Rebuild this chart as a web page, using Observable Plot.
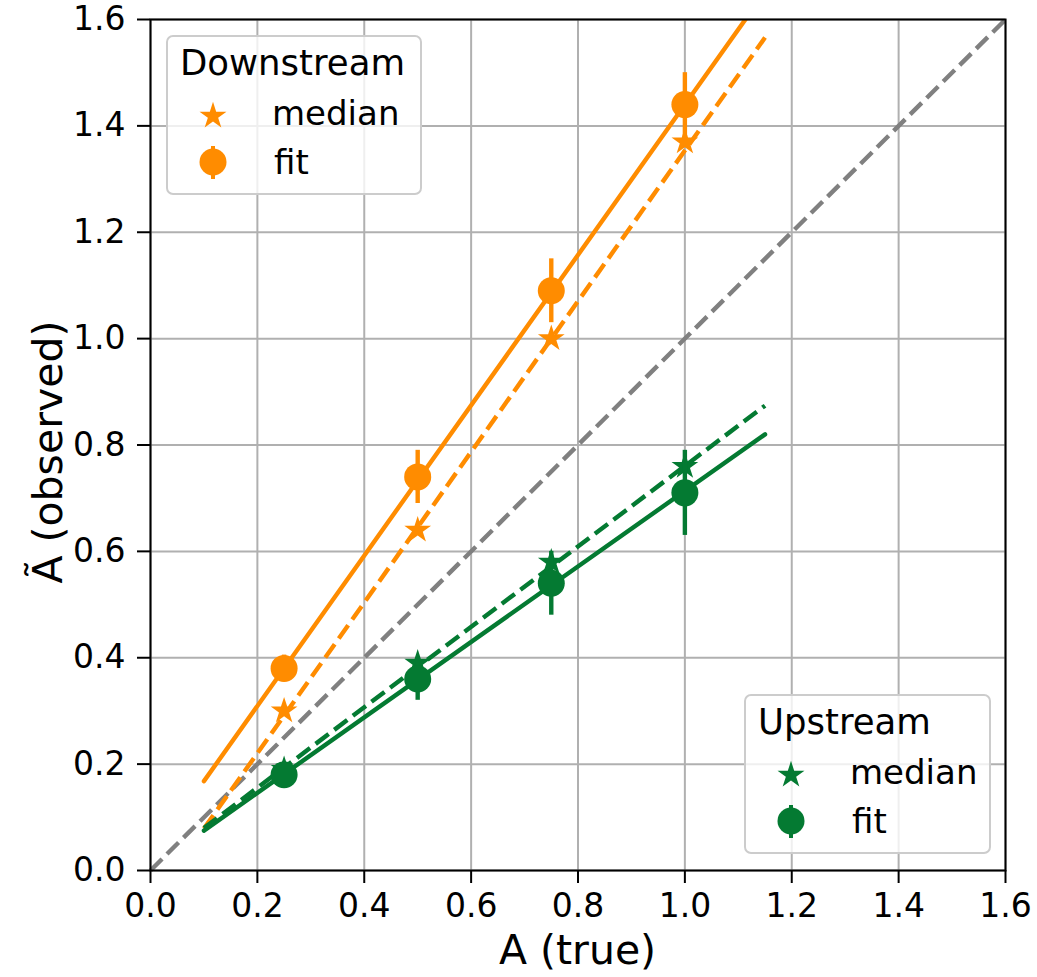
<!DOCTYPE html>
<html><head><meta charset="utf-8">
<script src="https://cdn.jsdelivr.net/npm/d3@7"></script>
<script src="https://cdn.jsdelivr.net/npm/@observablehq/plot@0.6"></script>
<style>body{margin:0;background:#fff;}</style>
</head><body><div id="chart"></div>
<script>
// ---- data ----
const A_true = [0.25, 0.5, 0.75, 1.0];
const downFit = [0.38, 0.74, 1.09, 1.44];
const downFitErr = [0.025, 0.05, 0.06, 0.06];
const downMedian = [0.30, 0.64, 1.00, 1.37];
const upFit = [0.18, 0.36, 0.54, 0.71];
const upFitErr = [0.02, 0.04, 0.06, 0.08];
const upMedian = [0.19, 0.39, 0.58, 0.76];
const lineX = [0.1, 1.15];
const downFitLine = [0.168, 1.652];
const downMedLine = [0.079, 1.566];
const upFitLine = [0.075, 0.82];
const upMedLine = [0.08, 0.874];
const diagX = [0, 1.6];
const diagY = [0, 1.6];
const tickValues = [0, 0.2, 0.4, 0.6, 0.8, 1.0, 1.2, 1.4, 1.6];

const ORANGE = "#ff8c00", GREEN = "#047a32", GRAY = "#808080";
const font = "DejaVu Sans, sans-serif";

const pts = (ys) => A_true.map((x, i) => ({x, y: ys[i]}));
const errs = (ys, es) => A_true.map((x, i) => ({x, y1: ys[i] - es[i], y2: ys[i] + es[i]}));
const seg = (ys) => lineX.map((x, i) => ({x, y: ys[i]}));

const LW = 4.4;
const dash = "16.3,7";
const plot = Plot.plot({
  width: 1037, height: 977,
  marginLeft: 150, marginRight: 32, marginTop: 19, marginBottom: 107,
  style: {fontFamily: font, fontSize: "33px", background: "#fff", color: "#000"},
  x: {domain: [0, 1.6]},
  y: {domain: [0, 1.6]},
  marks: [
    Plot.gridX(tickValues, {stroke: "#b0b0b0", strokeOpacity: 1, strokeWidth: 2}),
    Plot.gridY(tickValues, {stroke: "#b0b0b0", strokeOpacity: 1, strokeWidth: 2}),
    Plot.line(diagX.map((x, i) => ({x, y: diagY[i]})), {x: "x", y: "y", stroke: GRAY, strokeWidth: LW, strokeDasharray: dash, strokeLinecap: "butt"}),
    // downstream
    Plot.line(seg(downFitLine), {x: "x", y: "y", stroke: ORANGE, strokeWidth: LW, clip: true}),
    Plot.line(seg(downMedLine), {x: "x", y: "y", stroke: ORANGE, strokeWidth: LW, strokeDasharray: dash, strokeLinecap: "butt", clip: true}),
    Plot.dot(pts(downMedian), {x: "x", y: "y", symbol: "star", r: 8.4, fill: ORANGE, stroke: "none"}),
    Plot.ruleX(errs(downFit, downFitErr), {x: "x", y1: "y1", y2: "y2", stroke: ORANGE, strokeWidth: LW}),
    Plot.dot(pts(downFit), {x: "x", y: "y", r: 13.5, fill: ORANGE, stroke: "none"}),
    // upstream
    Plot.line(seg(upFitLine), {x: "x", y: "y", stroke: GREEN, strokeWidth: LW, clip: true}),
    Plot.line(seg(upMedLine), {x: "x", y: "y", stroke: GREEN, strokeWidth: LW, strokeDasharray: dash, strokeLinecap: "butt", clip: true}),
    Plot.dot(pts(upMedian), {x: "x", y: "y", symbol: "star", r: 8.4, fill: GREEN, stroke: "none"}),
    Plot.ruleX(errs(upFit, upFitErr), {x: "x", y1: "y1", y2: "y2", stroke: GREEN, strokeWidth: LW}),
    Plot.dot(pts(upFit), {x: "x", y: "y", r: 13.5, fill: GREEN, stroke: "none"}),
    Plot.frame({stroke: "#000", strokeWidth: 2}),
    Plot.axisX(tickValues, {tickFormat: d3.format(".1f"), tickSize: 13, tickPadding: 10, strokeWidth: 2, label: null, fontSize: 33}),
    Plot.axisY(tickValues, {tickFormat: d3.format(".1f"), tickSize: 13, tickPadding: 12, strokeWidth: 2, label: null, fontSize: 33})
  ]
});
document.getElementById("chart").appendChild(plot);

const svg = d3.select(plot);
// axis labels
svg.append("text").attr("x", 577.5).attr("y", 964).attr("text-anchor", "middle")
  .attr("font-family", font).attr("font-size", 41).attr("fill", "#000").text("A (true)");
svg.append("text").attr("transform", "translate(62,452) rotate(-90)").attr("text-anchor", "middle")
  .attr("font-family", font).attr("font-size", 41).attr("fill", "#000").text("Ã (observed)");

// legends
function legend(x0, y0, w, h, title, color) {
  const g = svg.append("g").attr("font-family", font).attr("fill", "#000").attr("text-anchor", "start");
  g.append("rect").attr("x", x0).attr("y", y0).attr("width", w).attr("height", h)
    .attr("rx", 6).attr("fill", "#fff").attr("fill-opacity", 0.8).attr("stroke", "#cccccc").attr("stroke-width", 2);
  g.append("text").attr("x", x0 + 13).attr("y", y0 + 39).attr("font-size", 35.5).attr("text-anchor", "start").text(title);
  const mx = x0 + 46;
  g.append("path").attr("d", d3.symbol(d3.symbolStar, 225)()).attr("transform", `translate(${mx},${y0 + 80})`).attr("fill", color);
  g.append("line").attr("x1", mx).attr("x2", mx).attr("y1", y0 + 110).attr("y2", y0 + 143).attr("stroke", color).attr("stroke-width", 4);
  g.append("circle").attr("cx", mx).attr("cy", y0 + 126).attr("r", 13.5).attr("fill", color);
  g.append("text").attr("x", x0 + 105).attr("y", y0 + 89).attr("font-size", 34).attr("text-anchor", "start").text("median");
  g.append("text").attr("x", x0 + 107).attr("y", y0 + 138).attr("font-size", 34).attr("text-anchor", "start").text("fit");
}
legend(167, 36, 254, 158, "Downstream", ORANGE);
legend(745, 695, 245, 158, "Upstream", GREEN);
</script>
</body></html>
